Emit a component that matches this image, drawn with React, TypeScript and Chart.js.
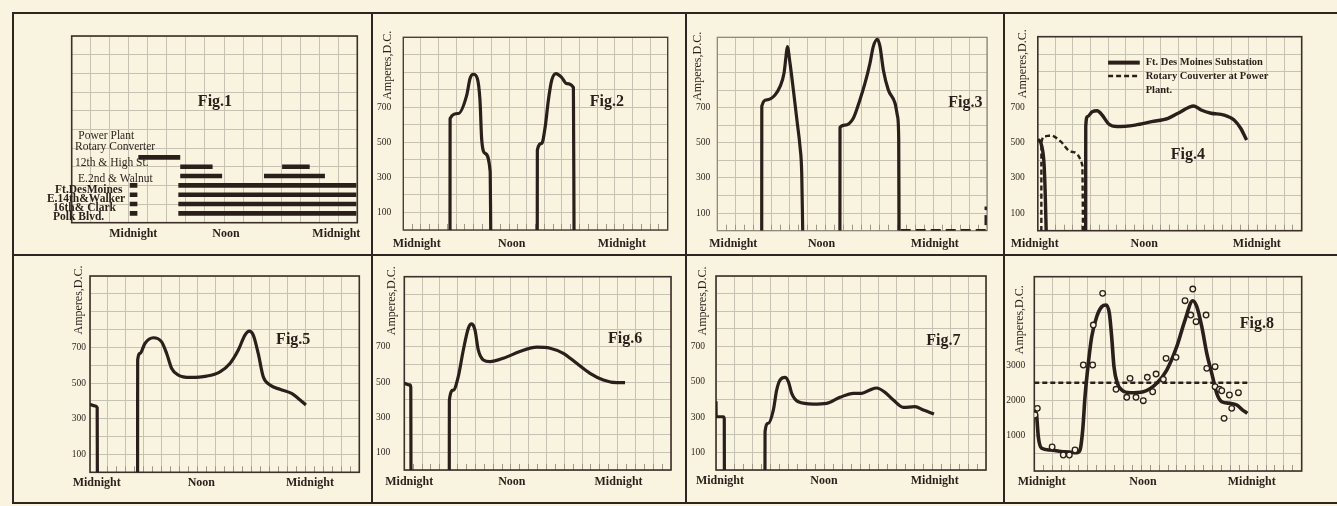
import { useEffect, useRef } from 'react';
import { Chart, registerables } from 'chart.js';

Chart.register(...registerables);

type Pair = [number, number];
type Pt = [number, number | null];

const PAPER = '#f8f4df';
const INK = '#2b1f1b';
const GRID = '#c6c2b3';
const TICKMARK = '#9d978a';
const RULE = '#2f2420';
const FONT = '"Liberation Serif", "DejaVu Serif", "Times New Roman", serif';

// ---------------- data ----------------
const timeLabels = ['Midnight', 'Noon', 'Midnight'];
const ampLabels = [100, 300, 500, 700];
const fig8AmpLabels = [1000, 2000, 3000];

// Fig. 1 — hours each sub-station was in service (grid-hour units)
const fig1Stations = ['Power Plant Rotary Converter', '12th & High St.', 'E.2nd & Walnut', 'Ft.DesMoines', 'E.14th&Walker', '16th& Clark', 'Polk Blvd.'];
const fig1Rows = [3.5, 3.0, 2.5, 2.0, 1.5, 1.0, 0.5];
const fig1OnPeriods: Pair[][] = [
  [[7.0, 11.4]],
  [[11.4, 14.8], [22.1, 25.0]],
  [[11.4, 15.8], [20.2, 26.6]],
  [[6.1, 6.9], [11.2, 29.9]],
  [[6.1, 6.9], [11.2, 29.9]],
  [[6.1, 6.9], [11.2, 29.9]],
  [[6.1, 6.9], [11.2, 29.9]],
];
const fig1LabelText = ['Power Plant', 'Rotary Converter', '12th & High St.', 'E.2nd & Walnut', 'Ft.DesMoines', 'E.14th&Walker', '16th& Clark', 'Polk Blvd.'];
const fig1TickPos = [6.47, 16.2, 27.8];

// Fig. 2
const fig2Morning: Pair[] = [[5.3, 0], [5.31, 637], [6.24, 665], [7.2, 770], [7.57, 865], [7.95, 889], [8.4, 865], [8.7, 741], [8.9, 513], [9.27, 438], [9.86, 332], [9.92, 0]];
const fig2Evening: Pair[] = [[15.2, 0], [15.21, 456], [15.7, 494], [16.1, 589], [16.46, 741], [16.84, 855], [17.33, 893], [17.98, 870], [18.55, 836], [19.3, 813], [19.37, 0]];
const fig2TickPos = [1.52, 12.3, 24.8];

// Fig. 3
const fig3Morning: Pair[] = [[4.94, 0], [4.95, 709], [5.5, 744], [6.42, 772], [6.97, 819], [7.42, 896], [7.64, 990], [7.79, 1047], [8.09, 952], [8.46, 801], [8.9, 611], [9.2, 478], [9.39, 327], [9.5, 0]];
const fig3Evening: Pair[] = [[13.64, 0], [13.65, 588], [14.2, 601], [15.13, 640], [15.86, 744], [16.43, 839], [16.98, 952], [17.35, 1047], [17.8, 1089], [18.1, 1047], [18.47, 914], [19.02, 801], [19.77, 725], [20.05, 650], [20.18, 520], [20.22, 0]];
const fig3Idle: Pair[] = [[20.4, 3], [29.85, 3], [29.86, 137]];
const fig3TickPos = [1.78, 11.6, 24.2];

// Fig. 4
const fig4SubstationNight: Pair[] = [[0, 520], [0.45, 480], [0.72, 370], [0.86, 180], [0.95, 0]];
const fig4SubstationDay: Pair[] = [[5.44, 0], [5.45, 590], [5.63, 646], [6.19, 675], [6.75, 680], [7.31, 656], [8.06, 605], [9.0, 590], [11.06, 599], [12.94, 618], [14.81, 637], [15.94, 666], [17.74, 707], [18.56, 684], [19.69, 666], [21.19, 656], [22.31, 628], [23.06, 581], [23.74, 514]];
const fig4Rotary: Pair[] = [[0.4, 0], [0.41, 500], [0.8, 535], [1.5, 540], [2.62, 505], [3.75, 448], [5.06, 372], [5.14, 0]];
const fig4TickPos = [-0.36, 12.1, 24.9];

// Fig. 5
const fig5Night: Pair[] = [[0, 381], [0.55, 372], [0.8, 362], [0.82, 0]];
const fig5Day: Pair[] = [[5.3, 0], [5.31, 629], [5.57, 666], [6.12, 722], [7.05, 754], [7.98, 731], [8.54, 666], [9.1, 582], [9.84, 545], [11.14, 532], [13.0, 539], [14.48, 563], [15.59, 610], [16.52, 685], [17.26, 769], [17.74, 791], [18.19, 769], [18.74, 666], [19.3, 535], [20.05, 489], [21.16, 465], [22.46, 442], [23.2, 414], [24.05, 377]];
const fig5TickPos = [0.74, 12.4, 24.5];

// Fig. 6
const fig6Night: Pair[] = [[0, 493], [0.64, 484], [0.73, 470], [0.75, 0]];
const fig6Day: Pair[] = [[5.06, 0], [5.07, 398], [5.51, 455], [6.07, 531], [6.64, 683], [7.2, 806], [7.58, 831], [7.95, 797], [8.32, 683], [8.89, 626], [9.64, 617], [11.14, 636], [13.0, 674], [14.9, 699], [16.4, 693], [17.89, 664], [19.39, 607], [20.89, 550], [22.39, 512], [23.89, 497], [24.83, 497]];
const fig6TickPos = [0.56, 12.1, 24.1];

// Fig. 7
const fig7Night: Pair[] = [[0, 390], [0.02, 302], [0.81, 302], [0.92, 290], [0.93, 0]];
const fig7Day: Pair[] = [[5.44, 0], [5.45, 217], [5.81, 265], [6.37, 340], [6.74, 453], [7.11, 510], [7.67, 525], [8.04, 501], [8.41, 435], [9.15, 387], [10.81, 374], [12.3, 378], [13.78, 412], [15.26, 435], [16.19, 435], [17.11, 454], [17.85, 465], [18.78, 440], [19.7, 397], [20.81, 355], [22.11, 359], [23.04, 340], [24.22, 318]];
const fig7TickPos = [0.44, 12.0, 24.3];

// Fig. 8
const fig8Curve: Pair[] = [[0.08, 1726], [0.27, 1537], [0.45, 971], [0.83, 642], [1.76, 594], [3.25, 546], [4.76, 518], [5.13, 594], [5.43, 1160], [5.69, 2103], [6.06, 3048], [6.44, 3801], [7.0, 4367], [7.56, 4650], [8.05, 4698], [8.42, 4463], [8.68, 3801], [8.94, 2952], [9.32, 2482], [9.81, 2292], [10.74, 2216], [12.23, 2244], [13.74, 2482], [14.86, 2858], [15.98, 3518], [16.91, 4273], [17.78, 4820], [18.23, 4650], [18.79, 4084], [19.35, 3330], [19.91, 2765], [20.47, 2199], [21.03, 1962], [21.96, 1916], [22.72, 1868], [23.28, 1745], [23.9, 1632]];
const fig8Readings: Pair[] = [[0.08, 1585], [0.34, 1774], [2.0, 680], [3.25, 453], [3.93, 453], [4.57, 594], [5.5, 3000], [6.55, 3000], [6.62, 4132], [7.67, 5028], [9.17, 2312], [10.37, 2086], [10.74, 2623], [11.41, 2086], [12.23, 1990], [12.68, 2652], [13.28, 2244], [13.66, 2745], [14.48, 2595], [14.78, 3189], [15.9, 3217], [16.91, 4820], [17.55, 4415], [17.78, 5151], [18.15, 4226], [19.27, 4415], [19.35, 2906], [20.28, 2952], [20.28, 2386], [20.77, 2312], [21.03, 2272], [21.29, 1491], [21.89, 2151], [22.15, 1774], [22.9, 2216]];
const fig8Average: Pair[] = [[0, 2500], [24, 2500]];
const fig8TickPos = [0.83, 12.2, 24.4];

// ---------------- layout / drawing ----------------
interface Series { label: string; points: Pt[]; width: number; dash?: number[]; smooth?: boolean; dots?: boolean }
interface Note { text: string; at: Pair; font: string; align?: CanvasTextAlign }
interface LegendRow { from: number; to: number; y: number; width: number; dash?: number[] }
interface Fig {
  cell: [number, number, number, number];
  plot: [number, number, number, number];
  xTickPos: number[];
  xLabelPad: number;
  yMax: number;
  yStep: number;
  yLabels: number[];
  yTickPad: number;
  yTitle?: Pair;
  frame: string;
  frameWidth: number;
  minorTicks: boolean;
  series: Series[];
  notes: Note[];
  legend?: LegendRow[];
}

const FIG_FONT = `bold 16px ${FONT}`;
const LBL_FONT = `11.5px ${FONT}`;
const LBL_BOLD = `bold 11.5px ${FONT}`;
const LEG_FONT = `bold 10.5px ${FONT}`;

const curve = (label: string, points: Pair[], width = 3.2, extra: Partial<Series> = {}): Series => ({ label, points, width, smooth: true, ...extra });

const fig1Series: Series[] = fig1OnPeriods.map((periods, i) => ({
  label: fig1Stations[i],
  points: periods.flatMap(([a, b]) => [[a, fig1Rows[i]], [b, fig1Rows[i]], [b, null]] as Pt[]),
  width: 4.6,
}));

const fig1LabelAt: Pair[] = [[0.69, 4.64], [0.35, 4.07], [0.35, 3.18], [0.66, 2.32], [-1.75, 1.75], [-2.6, 1.27], [-1.96, 0.79], [-1.96, 0.31]];

const figs: Fig[] = [
  {
    cell: [14, 14, 357, 240], plot: [71.7, 36, 357.3, 222.7], xTickPos: fig1TickPos, xLabelPad: 4.5,
    yMax: 10, yStep: 1, yLabels: [], yTickPad: 4, frame: '#3d2f2a', frameWidth: 1.6, minorTicks: false,
    series: fig1Series,
    notes: [
      { text: 'Fig.1', at: [15.05, 6.48], font: FIG_FONT },
      ...fig1LabelText.map((t, i) => ({ text: t, at: fig1LabelAt[i], font: i >= 4 ? LBL_BOLD : LBL_FONT, align: 'left' as CanvasTextAlign })),
    ],
  },
  {
    cell: [373, 14, 312, 240], plot: [403.3, 37.3, 667.7, 230], xTickPos: fig2TickPos, xLabelPad: 7,
    yMax: 1100, yStep: 100, yLabels: ampLabels, yTickPad: 12, yTitle: [-15, 28], frame: '#4a3c36', frameWidth: 1.4, minorTicks: true,
    series: [curve('Morning', fig2Morning), curve('Evening', fig2Evening)],
    notes: [{ text: 'Fig.2', at: [23.1, 731], font: FIG_FONT }],
  },
  {
    cell: [687, 14, 316, 240], plot: [717.3, 37.3, 987, 230.7], xTickPos: fig3TickPos, xLabelPad: 6,
    yMax: 1100, yStep: 100, yLabels: ampLabels, yTickPad: 7, yTitle: [-19, 29], frame: '#8a8478', frameWidth: 1.2, minorTicks: true,
    series: [curve('Morning', fig3Morning), curve('Evening', fig3Evening), { label: 'Idle', points: fig3Idle, width: 2.4, dash: [10, 5] }],
    notes: [{ text: 'Fig.3', at: [27.6, 725], font: FIG_FONT }],
  },
  {
    cell: [1005, 14, 332, 240], plot: [1035, 36.7, 1301.7, 230.7], xTickPos: fig4TickPos, xLabelPad: 6,
    yMax: 1100, yStep: 100, yLabels: ampLabels, yTickPad: 13, yTitle: [-15, 27], frame: '#3d2f2a', frameWidth: 1.6, minorTicks: true,
    series: [
      curve('Ft. Des Moines Substation', fig4SubstationNight, 3.4),
      curve('Ft. Des Moines Substation', fig4SubstationDay, 3.4),
      curve('Rotary Converter at Power Plant', fig4Rotary, 2.4, { dash: [5, 3] }),
    ],
    notes: [
      { text: 'Fig.4', at: [17.06, 429], font: FIG_FONT },
      { text: 'Ft. Des Moines Substation', at: [12.26, 953], font: LEG_FONT, align: 'left' },
      { text: 'Rotary Couverter at Power', at: [12.26, 877], font: LEG_FONT, align: 'left' },
      { text: 'Plant.', at: [12.26, 794], font: LEG_FONT, align: 'left' },
    ],
    legend: [
      { from: 7.99, to: 11.59, y: 953, width: 4 },
      { from: 7.99, to: 11.59, y: 877, width: 2.6, dash: [5, 3] },
    ],
  },
  {
    cell: [14, 256, 357, 246], plot: [90, 276, 359.3, 472.3], xTickPos: fig5TickPos, xLabelPad: 3.5,
    yMax: 1100, yStep: 100, yLabels: ampLabels, yTickPad: 4, yTitle: [-11, 24], frame: '#3d2f2a', frameWidth: 1.6, minorTicks: true,
    series: [curve('Night', fig5Night), curve('Day', fig5Day)],
    notes: [{ text: 'Fig.5', at: [22.64, 741], font: FIG_FONT }],
  },
  {
    cell: [373, 256, 312, 246], plot: [404.3, 276.7, 671, 470], xTickPos: fig6TickPos, xLabelPad: 5,
    yMax: 1100, yStep: 100, yLabels: ampLabels, yTickPad: 14, yTitle: [-12, 24], frame: '#3d2f2a', frameWidth: 1.6, minorTicks: true,
    series: [curve('Night', fig6Night), curve('Day', fig6Day)],
    notes: [{ text: 'Fig.6', at: [24.83, 749], font: FIG_FONT }],
  },
  {
    cell: [687, 256, 316, 246], plot: [716, 276, 986, 470], xTickPos: fig7TickPos, xLabelPad: 4,
    yMax: 1100, yStep: 100, yLabels: ampLabels, yTickPad: 11, yTitle: [-13, 25], frame: '#3d2f2a', frameWidth: 1.6, minorTicks: true,
    series: [curve('Night', fig7Night), curve('Day', fig7Day)],
    notes: [{ text: 'Fig.7', at: [25.26, 733], font: FIG_FONT }],
  },
  {
    cell: [1005, 256, 332, 246], plot: [1034.3, 276.7, 1301.7, 471], xTickPos: fig8TickPos, xLabelPad: 4,
    yMax: 5500, yStep: 500, yLabels: fig8AmpLabels, yTickPad: 9, yTitle: [-14, 43], frame: '#3d2f2a', frameWidth: 1.6, minorTicks: true,
    series: [
      { label: 'Readings', points: fig8Readings, width: 1.3, dots: true },
      curve('Load', fig8Curve, 3.6),
      { label: 'Average', points: fig8Average, width: 2.6, dash: [5, 3] },
    ],
    notes: [{ text: 'Fig.8', at: [24.96, 4160], font: FIG_FONT }],
  },
];

const steps = (a: number, b: number, d: number) =>
  Array.from({ length: Math.round((b - a) / d) + 1 }, (_, i) => ({ value: a + i * d }));

function decor(f: Fig) {
  return {
    id: 'decor',
    beforeDatasetsDraw(chart: any) {
      const { ctx, chartArea: a } = chart;
      ctx.save();
      ctx.strokeStyle = f.frame;
      ctx.lineWidth = f.frameWidth;
      ctx.strokeRect(a.left, a.top, a.right - a.left, a.bottom - a.top);
      ctx.restore();
    },
    afterDatasetsDraw(chart: any) {
      const { ctx, chartArea: a, scales } = chart;
      const xs = scales.x;
      const ys = scales.y;
      ctx.save();
      ctx.fillStyle = INK;
      ctx.textBaseline = 'middle';
      for (const n of f.notes) {
        ctx.font = n.font;
        ctx.textAlign = n.align ?? 'center';
        ctx.fillText(n.text, xs.getPixelForValue(n.at[0]), ys.getPixelForValue(n.at[1]));
      }
      for (const l of f.legend ?? []) {
        const yy = ys.getPixelForValue(l.y);
        ctx.beginPath();
        ctx.setLineDash(l.dash ?? []);
        ctx.lineWidth = l.width;
        ctx.strokeStyle = INK;
        ctx.moveTo(xs.getPixelForValue(l.from), yy);
        ctx.lineTo(xs.getPixelForValue(l.to), yy);
        ctx.stroke();
      }
      ctx.setLineDash([]);
      if (f.yTitle) {
        ctx.translate(a.left + f.yTitle[0], a.top + f.yTitle[1]);
        ctx.rotate(-Math.PI / 2);
        ctx.font = `12px ${FONT}`;
        ctx.textAlign = 'center';
        ctx.fillText('Amperes,D.C.', 0, 0);
      }
      ctx.restore();
    },
  };
}

function buildConfig(f: Fig): any {
  const [cx, cy, cw, ch] = f.cell;
  const [L, T, R, B] = f.plot;
  const labelH = 20;
  return {
    type: 'line',
    data: {
      datasets: f.series.map((s) => ({
        label: s.label,
        data: s.points.map(([x, y]) => ({ x, y })),
        borderColor: INK,
        borderWidth: s.width,
        borderDash: s.dash ?? [],
        showLine: !s.dots,
        pointRadius: s.dots ? 2.8 : 0,
        pointHoverRadius: 0,
        pointBackgroundColor: PAPER,
        pointBorderColor: INK,
        pointBorderWidth: 1.3,
        cubicInterpolationMode: s.smooth ? 'monotone' : 'default',
        tension: 0,
        fill: false,
        spanGaps: false,
        borderCapStyle: 'butt',
        borderJoinStyle: 'round',
      })),
    },
    options: {
      responsive: false,
      animation: false,
      devicePixelRatio: 1,
      events: [],
      layout: { padding: { left: 0, top: T - cy, right: cx + cw - R, bottom: cy + ch - B - labelH } },
      plugins: { legend: { display: false }, tooltip: { enabled: false }, title: { display: false } },
      scales: {
        x: {
          type: 'linear', position: 'bottom', min: 0, max: 30, weight: 0,
          afterBuildTicks: (s: any) => { s.ticks = steps(0, 30, 2); },
          grid: { color: GRID, lineWidth: 1, drawTicks: false },
          border: { display: false },
          ticks: { display: false },
          afterFit: (s: any) => { s.height = 0; },
        },
        xm: {
          type: 'linear', position: 'bottom', min: 0, max: 30, weight: 1, display: f.minorTicks,
          afterBuildTicks: (s: any) => { s.ticks = steps(1, 29, 1); },
          grid: { drawOnChartArea: false, drawTicks: true, tickLength: -6, color: TICKMARK, lineWidth: 1 },
          border: { display: false },
          ticks: { display: false },
          afterFit: (s: any) => { s.height = 0; },
        },
        xl: {
          type: 'linear', position: 'bottom', min: 0, max: 30, weight: 5,
          afterBuildTicks: (s: any) => { s.ticks = f.xTickPos.map((value) => ({ value })); },
          grid: { display: false, drawTicks: false },
          border: { display: false },
          ticks: {
            autoSkip: false, maxRotation: 0, minRotation: 0, padding: f.xLabelPad, color: INK,
            font: { family: FONT, size: 12, weight: 'bold' },
            callback: (_v: number, i: number) => timeLabels[i],
          },
          afterFit: (s: any) => { s.height = labelH; },
        },
        y: {
          type: 'linear', position: 'left', min: 0, max: f.yMax,
          afterBuildTicks: (s: any) => { s.ticks = steps(0, f.yMax, f.yStep); },
          grid: { color: GRID, lineWidth: 1, drawTicks: false },
          border: { display: false },
          ticks: {
            display: f.yLabels.length > 0, autoSkip: false, padding: f.yTickPad, color: INK,
            font: { family: FONT, size: 9.5 },
            callback: (v: number) => (f.yLabels.includes(v) ? String(v) : ''),
          },
          afterFit: (s: any) => { s.width = L - cx; },
        },
      },
    },
    plugins: [decor(f)],
  };
}

function FigCanvas({ fig }: { fig: Fig }) {
  const ref = useRef<HTMLCanvasElement>(null);
  useEffect(() => {
    const chart = new Chart(ref.current as HTMLCanvasElement, buildConfig(fig));
    return () => chart.destroy();
  }, [fig]);
  const [x, y, w, h] = fig.cell;
  return (
    <canvas
      ref={ref}
      width={w}
      height={h}
      style={{ position: 'absolute', left: x, top: y, width: w, height: h }}
    />
  );
}

const rules: [number, number, number, number][] = [
  [12, 12, 1325, 2],
  [12, 254, 1325, 2],
  [12, 502, 1325, 2],
  [12, 12, 2, 492],
  [371, 12, 2, 492],
  [685, 12, 2, 492],
  [1003, 12, 2, 492],
];

export default function App() {
  return (
    <div style={{ position: 'absolute', left: 0, top: 0, width: 1337, height: 506, background: PAPER, overflow: 'hidden' }}>
      {figs.map((f, i) => (
        <FigCanvas key={i} fig={f} />
      ))}
      {rules.map(([x, y, w, h], i) => (
        <div key={'r' + i} style={{ position: 'absolute', left: x, top: y, width: w, height: h, background: RULE }} />
      ))}
    </div>
  );
}
